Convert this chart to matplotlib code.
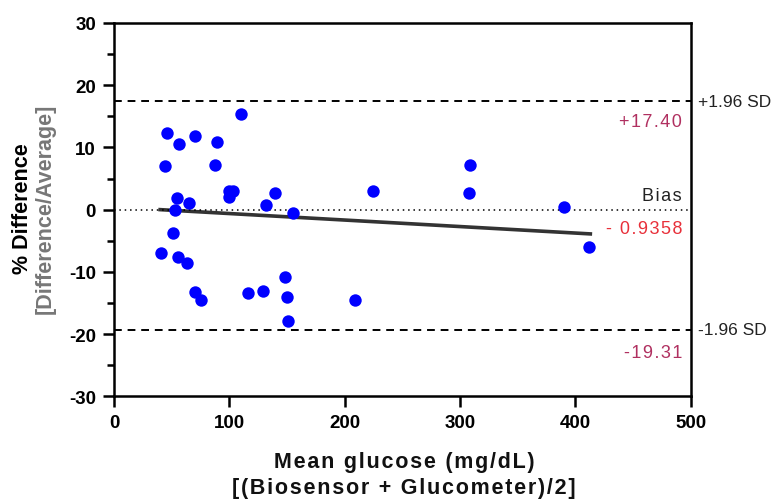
import matplotlib.pyplot as plt
import numpy as np

# mean glucose (x) and % difference (y)
mean_glucose = [45.7, 44.5, 56.6, 70.3, 89.1, 87.9, 110.4, 100.0, 102.9, 100.0,
                54.4, 65.0, 52.9, 132.1, 139.9, 155.5, 224.4, 307.9, 309.0, 390.5,
                412.0, 50.9, 41.0, 55.5, 63.1, 70.5, 75.2, 116.0, 129.2, 148.0,
                150.3, 150.6, 208.8]
pct_diff = [12.3, 7.0, 10.6, 11.8, 10.8, 7.1, 15.4, 3.0, 3.0, 2.1,
            1.9, 1.1, 0.0, 0.8, 2.6, -0.5, 3.0, 2.6, 7.2, 0.5,
            -6.0, -3.8, -7.0, -7.6, -8.5, -13.2, -14.6, -13.4, -13.0, -10.8,
            -14.0, -17.9, -14.5]

upper_loa = 17.40
lower_loa = -19.31
bias = -0.9358
trend_x = [40, 413]
trend_y = [0.0, -3.9]


def spaced(s):
    # the original labels have wide letter spacing
    return '\u200a'.join(s)


plt.rcParams['font.family'] = ['Liberation Sans Narrow', 'Liberation Sans', 'DejaVu Sans']
plt.rcParams['axes.unicode_minus'] = False

fig = plt.figure(figsize=(7.82, 5.02), dpi=100)
ax = fig.add_axes([0.1458, 0.2086, 0.7374, 0.7436])

ax.scatter(mean_glucose, pct_diff, s=80, color='#0000ff', zorder=3, linewidths=0)
ax.plot(trend_x, trend_y, color='#333333', lw=2.6, zorder=2)

ax.axhline(upper_loa, color='black', ls=(0, (4, 3)), lw=1.4)
ax.axhline(lower_loa, color='black', ls=(0, (4, 3)), lw=1.4)
ax.axhline(0, color='black', ls=(0, (1, 2.5)), lw=1.1)

ax.set_xlim(0, 500)
ax.set_ylim(-30, 30)
ax.set_xticks(np.arange(0, 501, 100))
ax.set_yticks(np.arange(-30, 31, 10))
ax.set_yticks(np.arange(-25, 30, 10), minor=True)
for s in ax.spines.values():
    s.set_linewidth(1.8)
ax.tick_params(axis='both', which='major', length=8, width=1.8, labelsize=13.5, pad=5)
ax.tick_params(axis='y', which='minor', length=5, width=1.8)
for lab in ax.get_xticklabels() + ax.get_yticklabels():
    lab.set_fontweight('bold')

# reference line labels
tr = ax.get_yaxis_transform()
lab_font = dict(family=['Liberation Sans', 'DejaVu Sans'], fontsize=12.5)
ax.text(1.012, upper_loa, '+1.96 SD', transform=tr, va='center', ha='left', color='#222222', **lab_font)
ax.text(1.012, lower_loa, '-1.96 SD', transform=tr, va='center', ha='left', color='#222222', **lab_font)
lab_font['fontsize'] = 13
ax.text(0.985, upper_loa - 3.3, spaced('+17.40'), transform=tr, ha='right', va='center', color='#b03060', **lab_font)
ax.text(0.985, lower_loa - 3.6, spaced('-19.31'), transform=tr, ha='right', va='center', color='#b03060', **lab_font)
ax.text(0.985, 2.2, spaced('Bias'), transform=tr, ha='right', va='center', color='#222222', **lab_font)
ax.text(0.985, -3.0, spaced('- 0.9358'), transform=tr, ha='right', va='center', color='#e8303a', **lab_font)

ax_font = dict(family=['Liberation Sans', 'DejaVu Sans'], fontsize=15.5, fontweight='bold')
fig.text(0.029, 0.585, '% Difference', rotation=90, ha='center', va='center', color='black', **ax_font)
fig.text(0.058, 0.585, '[Difference/Average]', rotation=90, ha='center', va='center', color='#777777', **ax_font)
fig.text(0.517, 0.079, spaced('Mean glucose (mg/dL)'), ha='center', va='center', color='#111111', **ax_font)
fig.text(0.517, 0.027, spaced('[(Biosensor + Glucometer)/2]'), ha='center', va='center', color='#111111', **ax_font)

fig.savefig('out.png', dpi=100)
